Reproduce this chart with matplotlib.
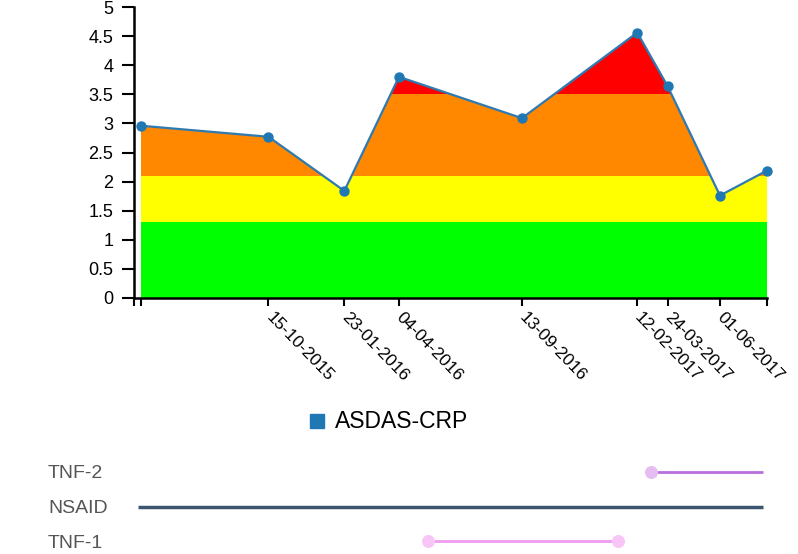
import matplotlib
matplotlib.use("Agg")
import matplotlib.pyplot as plt
import matplotlib.dates as mdates
import numpy as np
from datetime import datetime

plt.rcParams['font.family'] = ['Liberation Sans', 'DejaVu Sans']

# ---- data ----
dates = ["30-04-2015", "15-10-2015", "23-01-2016", "04-04-2016", "13-09-2016",
         "12-02-2017", "24-03-2017", "01-06-2017", "02-08-2017"]
asdas = [2.96, 2.77, 1.84, 3.80, 3.09, 4.56, 3.64, 1.76, 2.19]

band_edges = [0, 1.3, 2.1, 3.5, 5]
band_colors = ["#00ff00", "#ffff00", "#ff8800", "#ff0000"]

treat_names = ["TNF-2", "NSAID", "TNF-1"]
treat_start = ["02-03-2017", "26-04-2015", "12-05-2016"]
treat_end = ["28-07-2017", "28-07-2017", "17-01-2017"]
treat_colors = ["#b86fdc", "#3d5670", "#f09cf0"]
treat_dot_colors = ["#e6bdf2", None, "#f8c6f6"]
treat_dots = [[True, False], [False, False], [True, True]]

legend_label = "ASDAS-CRP"
# -------------

def parse(s):
    return datetime.strptime(s, "%d-%m-%Y")

x = [parse(d) for d in dates]
xn = mdates.date2num(x)

W, H = 798, 554
fig = plt.figure(figsize=(W / 100, H / 100), dpi=100)

left_px, right_px, top_px, bot_px = 134.3, 767, 7, 298
ax = fig.add_axes([left_px / W, 1 - bot_px / H, (right_px - left_px) / W, (bot_px - top_px) / H])

x0 = xn[0] - (141 - left_px) / 0.758
ax.set_xlim(x0, xn[-1])
ax.set_ylim(0, 5)

poly = ax.fill_between(xn, 0, asdas, color='none', linewidth=0)
clip_path = poly.get_paths()[0]
for lo, hi, c in zip(band_edges[:-1], band_edges[1:], band_colors):
    r = ax.fill_between([xn[0], xn[-1]], lo, hi, color=c, linewidth=0, zorder=1)
    r.set_clip_path(clip_path, ax.transData)

ax.plot(xn, asdas, color="#2f7ab0", lw=1.6, zorder=3)
ax.scatter(xn, asdas, s=42, color="#1f77b4", zorder=4, clip_on=False)

for s in ['top', 'right']:
    ax.spines[s].set_visible(False)
for s in ['left', 'bottom']:
    ax.spines[s].set_linewidth(1.8)
    ax.spines[s].set_color('black')

ax.set_yticks(np.arange(0, 5.01, 0.5))
ax.set_yticklabels([f"{v:g}" for v in np.arange(0, 5.01, 0.5)])
ax.tick_params(axis='y', length=9, width=1.5, labelsize=13, pad=6)

ticks = [x0] + list(xn)
labels = [""] + [""] + dates[1:-1] + [""]
ax.set_xticks(ticks)
ax.set_xticklabels(labels, rotation=-46, ha='left', va='center', rotation_mode='anchor')
ax.tick_params(axis='x', length=6, width=1.5, labelsize=12.5, pad=6)

# legend
fig.patches.append(plt.Rectangle((310 / W, 1 - 428 / H), 14 / W, 14 / H,
                                 transform=fig.transFigure, color="#1f77b4"))
fig.text(335 / W, 1 - 421 / H, legend_label, fontsize=16.5, va='center', ha='left')

# timeline
tl = fig.add_axes([left_px / W, 0, (right_px - left_px) / W, 99 / H])
tl.set_xlim(x0, xn[-1])
tl.set_ylim(-0.377, 2.493)
tl.axis('off')
rows = [2, 1, 0]
for name, s, e, c, dc, dots, r in zip(treat_names, treat_start, treat_end,
                                        treat_colors, treat_dot_colors, treat_dots, rows):
    sn = mdates.date2num(parse(s))
    en = mdates.date2num(parse(e))
    tl.plot([sn, en], [r, r], color=c, lw=2.5 if name == "NSAID" else 2, solid_capstyle='butt', zorder=2)
    if dots[0]:
        tl.scatter([sn], [r], s=70, color=dc, zorder=3, clip_on=False)
    if dots[1]:
        tl.scatter([en], [r], s=70, color=dc, zorder=3, clip_on=False)
    ypix = 474 + (2 - r) * 34.5
    fig.text(48 / W, 1 - ypix / H, name, fontsize=14, color="#555555", va='center', ha='left')

fig.savefig("out.png", dpi=100)
